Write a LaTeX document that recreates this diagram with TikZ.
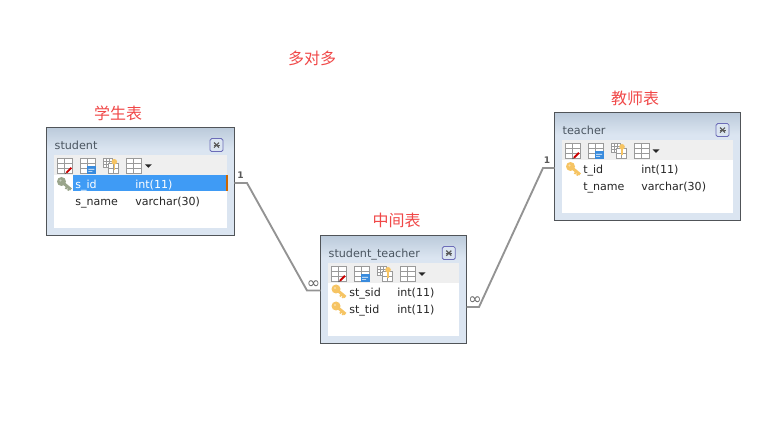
\documentclass[tikz,border=0pt]{standalone}
\usepackage{fontspec}
\setmainfont{DejaVu Sans}
\newfontfamily\cjk{Noto Sans CJK SC}
\usetikzlibrary{positioning}
\definecolor{frameC}{HTML}{505458}
\definecolor{headT}{HTML}{BCCBDB}
\definecolor{headB}{HTML}{DBE5F1}
\definecolor{barC}{HTML}{EFEFEF}
\definecolor{linkC}{HTML}{939393}
\definecolor{redT}{HTML}{F04848}
\definecolor{selC}{HTML}{3F9BF5}
\definecolor{keyO}{HTML}{F6C463}
\definecolor{keyG}{HTML}{9AA58C}
\definecolor{icoG}{HTML}{9A9A9A}
\definecolor{titleC}{HTML}{4A5560}
\tikzset{
  tablebox/.style={draw=frameC,line width=.8pt,inner sep=0pt,outer sep=0pt,fill=headB,anchor=north west},
  caption/.style={font=\cjk\fontsize{12}{12}\selectfont,text=redT,inner sep=0pt},
  title/.style={font=\fontsize{8.4}{8.4}\selectfont,text=titleC,inner sep=0pt,anchor=base west},
  cell/.style={font=\fontsize{8.3}{8.3}\selectfont,text=black!85,inner sep=0pt,anchor=base west},
  card/.style={font=\bfseries\fontsize{6.8}{6.8}\selectfont,text=black!65,inner sep=0pt},
  many/.style={font=\fontsize{12}{12}\selectfont,text=black!60,inner sep=0pt},
  link/.style={draw=linkC,line width=1.4pt},
  pics/gridicon/.style={code={
    \draw[icoG,line width=.55pt,fill=white] (0,0) rectangle (15,15);
    \draw[icoG,line width=.55pt] (0,5) -- (15,5) (0,10) -- (15,10) (7.5,0) -- (7.5,15);
  }},
  pics/editicon/.style={code={
    \pic {gridicon};
    \draw[red!80!black,line width=1.4pt] (9,14) -- (14,9);
    \draw[black!70,line width=.5pt] (7.5,15) -- (9,14);
  }},
  pics/indexicon/.style={code={
    \draw[icoG,line width=.55pt,fill=white] (0,0) rectangle (15,15);
    \draw[icoG,line width=.55pt] (0,5) -- (15,5) (0,10) -- (7,10) (7.5,0) -- (7.5,15);
    \fill[selC!90!black] (6.5,7) rectangle (15.5,15.5);
    \fill[white] (8,10) rectangle (14,10.8) (8,12.5) rectangle (12,13.2);
  }},
  pics/fkicon/.style={code={
    \draw[icoG,line width=.5pt,fill=white] (0,0) rectangle (9,9);
    \draw[icoG,line width=.5pt] (0,3) -- (9,3) (0,6) -- (9,6) (3,0) -- (3,9) (6,0) -- (6,9);
    \draw[icoG,line width=.5pt,fill=white] (5,5) rectangle (15,15);
    \draw[icoG,line width=.5pt] (5,10) -- (15,10) (10,5) -- (10,15);
    \fill[keyO] (11,3) circle (2.8);
    \fill[keyO] (10.2,3) rectangle (11.8,11);
  }},
  pics/dropicon/.style={code={
    \pic {gridicon};
    \fill[black!85] (18.5,5.5) -- (25.5,5.5) -- (22,9) -- cycle;
  }},
  pics/keyicon/.style={code={
    \fill[#1] (4.5,4.5) circle (4.5);
    \draw[#1,line width=2.2pt] (5,5) -- (14,12.5);
    \draw[#1,line width=1.3pt] (10,10) -- (8.5,12) (12.2,11.5) -- (10.8,13.5);
    \fill[white,opacity=.45] (3.5,3.5) circle (1.2);
  }},
  pics/closeicon/.style={code={
    \draw[icoG!70!blue,line width=.6pt,fill=headB,rounded corners=1.2pt] (0,0) rectangle (13,13);
    \draw[black!65,line width=.9pt] (4,4) -- (9,9) (4,9) -- (9,4);
    \draw[black!65,line width=.5pt] (3.5,6.5) -- (9.5,6.5);
  }}
}
% name, left, top, right, bottom, white left, white right, title text
\newcommand{\tablewin}[8]{%
  \node[tablebox,minimum width=#4*.75pt-#2*.75pt,minimum height=#5*.75pt-#3*.75pt] (#1) at (#2,#3) {};
  \shade[top color=headT,bottom color=headB,shading angle=0] (#2+.6,#3+.6) rectangle (#4-.6,#3+22);
  \draw[frameC,line width=.8pt] (#1.north west) rectangle (#1.south east);
  \fill[white] (#6,#3+27.5) rectangle (#7,#5-7.5);
  \fill[barC] (#6,#3+27.5) rectangle (#7,#3+47.5);
  \node[title] (#1title) at (#2+7.8,#3+22.2) {#8};
  \pic at (#7-17,#3+11) {closeicon};
  \pic at (#6+3.3,#3+31.2) {editicon};
  \pic at (#6+26.3,#3+31.2) {indexicon};
  \pic at (#6+49.3,#3+31.2) {fkicon};
  \pic at (#6+72.3,#3+31.2) {dropicon};
}
\begin{document}
\begin{tikzpicture}[x=.75pt,y=-.75pt]
\useasboundingbox (0,0) rectangle (784,423);
\node[caption] (capmain) at (312,58.5) {多对多};
\node[caption] (capstudent) at (118,113) {学生表};
\node[caption] (capteacher) at (635,98.5) {教师表};
\node[caption] (capmiddle) at (396.5,220.5) {中间表};
% student
\tablewin{student}{46.6}{127.6}{234.4}{235.6}{54}{227}{student}
\fill[selC] (73,175) rectangle (227,191.5);
\fill[orange!80!black] (226,175) rectangle (227.5,191.5);
\pic at (57,177) {keyicon=keyG};
\node[cell,text=white] (sidname) at (75,188.3) {s\_id};
\node[cell,text=white] (sidtype) at (135,188.3) {int(11)};
\node[cell] (snamename) at (75,205.3) {s\_name};
\node[cell] (snametype) at (135,205.3) {varchar(30)};
% student_teacher
\tablewin{middle}{320.6}{235.6}{466.6}{343.6}{327.7}{459.3}{student\_teacher}
\pic at (331.5,284.5) {keyicon=keyO};
\pic at (331.5,301.5) {keyicon=keyO};
\node[cell] (stsidname) at (349,296.3) {st\_sid};
\node[cell] (stsidtype) at (397,296.3) {int(11)};
\node[cell] (sttidname) at (349,313.3) {st\_tid};
\node[cell] (sttidtype) at (397,313.3) {int(11)};
% teacher
\tablewin{teacher}{554.6}{112.6}{740.6}{220.6}{561.7}{733}{teacher}
\pic at (566,162) {keyicon=keyO};
\node[cell] (tidname) at (583,173.3) {t\_id};
\node[cell] (tidtype) at (641,173.3) {int(11)};
\node[cell] (tnamename) at (583,190.3) {t\_name};
\node[cell] (tnametype) at (641,190.3) {varchar(30)};
% connectors
\coordinate (b1) at (247,183);
\coordinate (b2) at (307,290.5);
\coordinate (b3) at (479,307);
\coordinate (b4) at (543,168);
\draw[link] (student.east |- b1) -- (b1) -- (b2) -- (middle.west |- b2);
\draw[link] (middle.east |- b3) -- (b3) -- (b4) -- (teacher.west |- b4);
\node[card] (c1) at (240.5,175.5) {1};
\node[card] (c2) at (547,160.5) {1};
\node[many] (c3) at (313.5,284.5) {∞};
\node[many] (c4) at (475,301) {∞};
\end{tikzpicture}
\end{document}
